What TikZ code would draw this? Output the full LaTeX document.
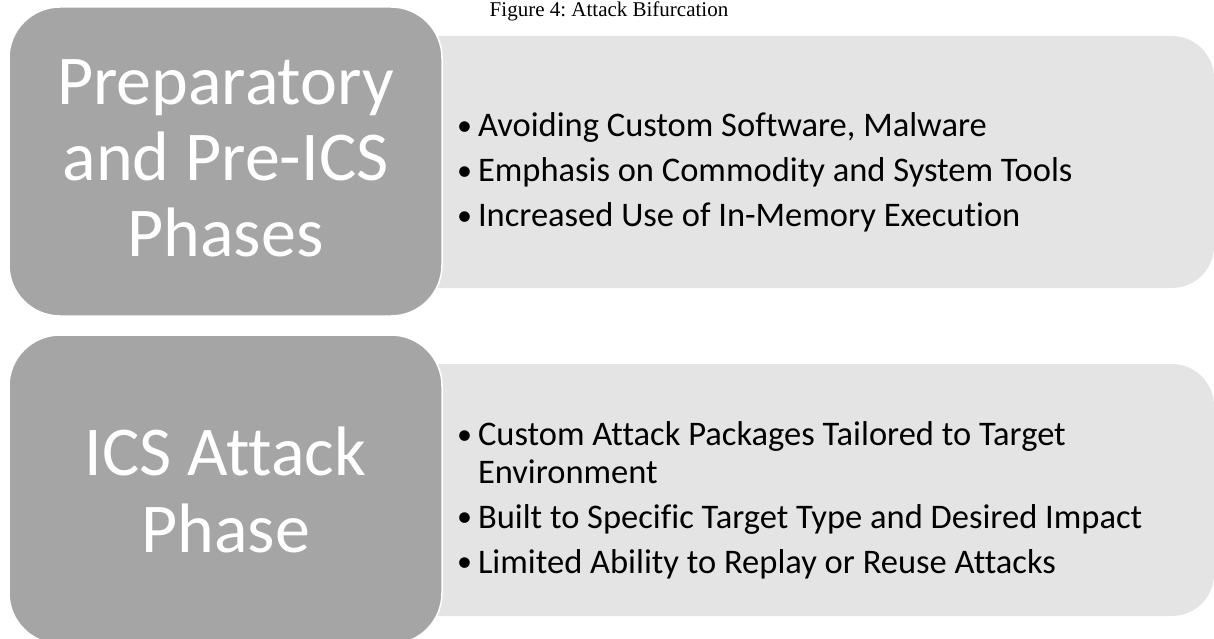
\documentclass[tikz,border=0pt]{standalone}
\usepackage{fontspec}
\setmainfont{Carlito}[Ligatures=NoCommon]
\newfontfamily\capfont{Liberation Serif}
\usetikzlibrary{positioning}

\definecolor{phasegray}{HTML}{A5A5A5}
\definecolor{listgray}{HTML}{E4E4E4}

% one bullet with hanging indent
\newcommand\bulletline[1]{\par\hangindent=21pt\hangafter=1\noindent
    \makebox[21pt][l]{\raisebox{1.5pt}{\fontsize{30}{30}\selectfont\textbullet}}#1}
\newcommand\listfont{\fontsize{34.5}{37.5}\selectfont\spaceskip=0.226em\relax
    \setlength\parskip{7.5pt}\raggedright}

\tikzset{
    phase/.style={fill=phasegray, draw=white, line width=1.5pt, rounded corners=51pt,
        minimum width=433pt, minimum height=309pt, inner sep=0pt,
        text=white, align=center, font=\fontsize{70}{77}\selectfont},
    listbox/.style={fill=listgray, rounded corners=42pt,
        minimum width=914pt, minimum height=252pt, inner sep=0pt},
    items/.style={text width=740pt, inner sep=0pt, text=black, font=\listfont}
}

\begin{document}
\begin{tikzpicture}[x=1pt, y=-1pt]
    \useasboundingbox (0,0) rectangle (1214,639);

    % light lists behind the phase boxes
    \node[listbox] (prepList) at (757,162) {};
    \node[listbox] (icsList) at (757,490) {};

    \node[phase] (prepPhase) at (225.5,161.5) {};
    \node[text=white, align=center, font=\fontsize{70}{76}\selectfont] (prepTitle)
        at ([yshift=3pt]prepPhase.center) {Preparatory\\and Pre-ICS\\Phases};
    \node[phase] (icsPhase) at (225.5,489.5) {ICS Attack\\Phase};

    \node[items, right=157pt of prepList.west] (prepItems) {\listfont
        \bulletline{Avoiding Custom Software, Malware}
        \bulletline{Emphasis on Commodity and System Tools}
        \bulletline{Increased Use of In-Memory Execution}\par};
    \node[items, right=157pt of icsList.west] (icsItems) {\listfont
        \bulletline{Custom Attack Packages Tailored to Target\newline Environment}
        \bulletline{Built to Specific Target Type and Desired Impact}
        \bulletline{Limited Ability to Replay or Reuse Attacks}\par};

    \node[anchor=base, font=\capfont\fontsize{21}{25}\selectfont\frenchspacing] (figCaption) at (609,17) {Figure 4: Attack Bifurcation};
\end{tikzpicture}
\end{document}
